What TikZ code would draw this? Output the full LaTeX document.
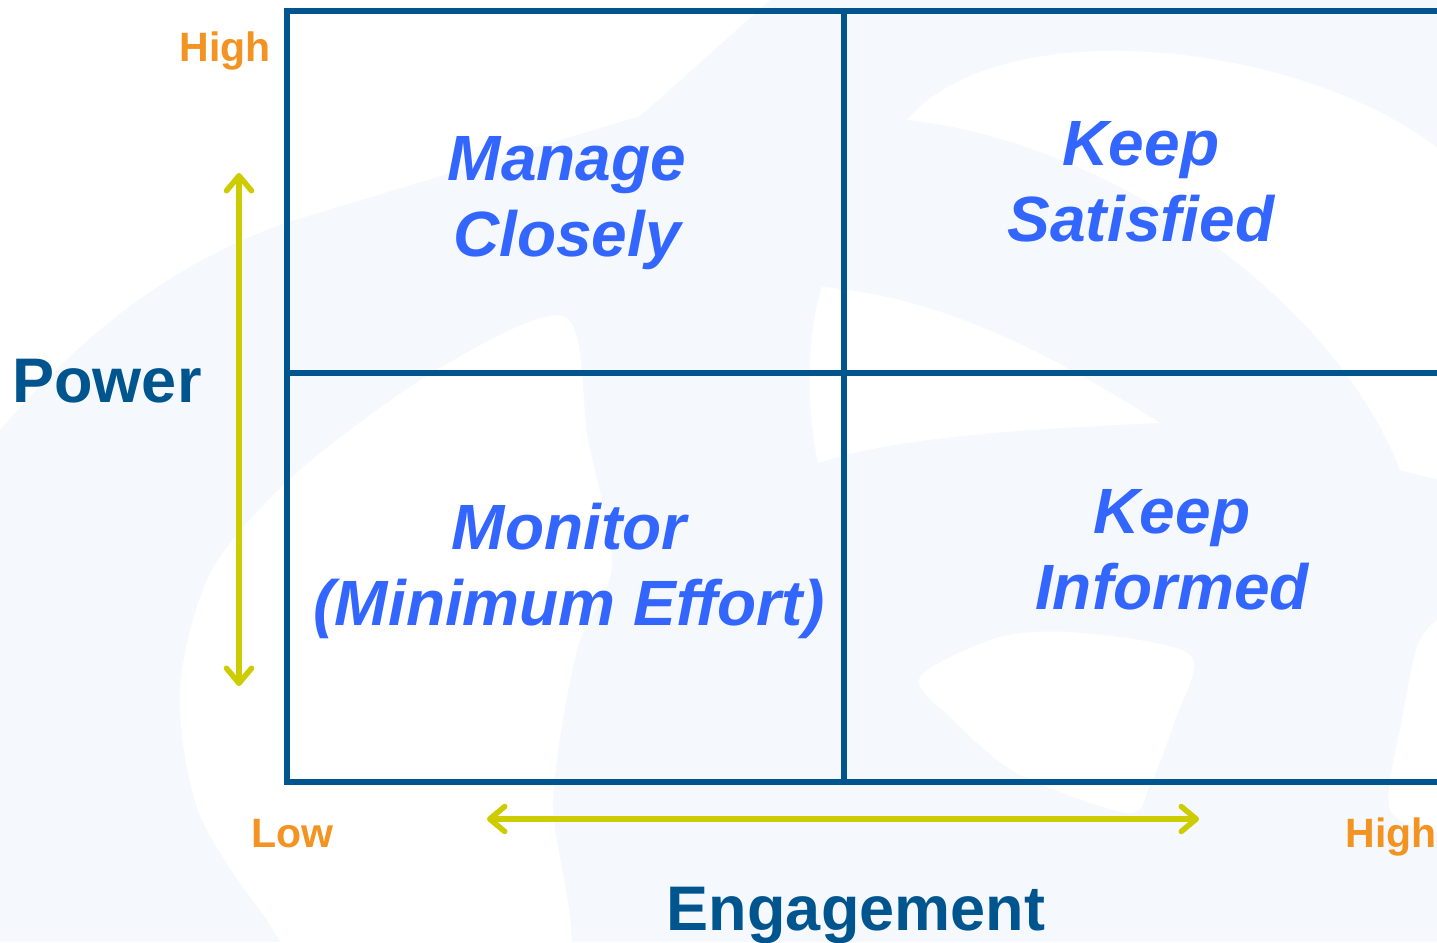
\documentclass[tikz,border=0pt]{standalone}
\usepackage{fontspec}
\setmainfont{Liberation Sans}
\usetikzlibrary{arrows.meta}
\definecolor{gridblue}{HTML}{00558F}
\definecolor{quadblue}{HTML}{3366FF}
\definecolor{axisorange}{HTML}{F39322}
\definecolor{axisyellow}{HTML}{CCCC00}
\definecolor{wash}{HTML}{F5F9FD}
\begin{document}
\begin{tikzpicture}[x=1pt,y=-1pt,
  quad/.style={font=\fontsize{64}{76}\selectfont\bfseries\itshape, text=quadblue, align=center, inner sep=0pt},
  axistitle/.style={font=\fontsize{63}{70}\selectfont\bfseries, text=gridblue, inner sep=0pt, anchor=base},
  level/.style={font=\fontsize{41}{48}\selectfont\bfseries, text=axisorange, inner sep=0pt, anchor=base},
  gridline/.style={draw=gridblue, line width=6pt},
  barb/.tip={Straight Barb[length=15pt,width=25pt,round]},
  axisarrow/.style={draw=axisyellow, line width=5.5pt, line cap=round, barb-barb},
]
\useasboundingbox (0,0) rectangle (1437,942);
\clip (0,0) rectangle (1437,942);

% faint watermark swirl behind the matrix
\fill[wash] (0,0) rectangle (1437,942);
\begin{scope}[white]
  \fill (0,0) -- (770,0) -- (640,116) -- (288,222)
        .. controls (150,270) and (60,360) .. (0,430) -- cycle;
  \fill plot[smooth cycle] coordinates {(565,317) (440,368) (300,470) (212,570)
        (180,690) (198,810) (260,910) (330,980) (560,980) (553,800) (577,650)
        (612,565) (588,440)};
  \fill (822,287) .. controls (950,298) and (1060,360) .. (1160,423)
        .. controls (1050,428) and (900,435) .. (818,463)
        .. controls (805,400) and (808,330) .. (822,287) -- cycle;
  \fill (907,120) .. controls (1100,140) and (1330,290) .. (1400,470)
        -- (1440,480) -- (1440,150)
        .. controls (1300,40) and (1000,10) .. (907,120) -- cycle;
  \fill plot[smooth cycle] coordinates {(920,677) (1000,637) (1083,633) (1190,655)
        (1175,720) (1150,785) (1127,813) (1017,773) (950,717)};
  \fill plot[smooth cycle] coordinates {(1420,640) (1450,630) (1450,820)
        (1390,810) (1402,720)};
\end{scope}

% the 2x2 matrix
\draw[gridline] (1450,11) -- (287,11) -- (287,782) -- (1450,782);
\draw[gridline] (844,11) -- (844,782);
\draw[gridline] (287,373) -- (1450,373);

% quadrant labels
\node[quad] (manage)    at (567,203) {Manage\\Closely};
\node[quad] (satisfied) at (1141,182) {Keep\\Satisfied};
\node[quad] (monitor)   at (569,571) {Monitor\\(Minimum Effort)};
\node[quad] (informed)  at (1172,550) {Keep\\Informed};

% axis titles and levels
\node[axistitle] (power)  at (107,402) {Power};
\node[axistitle] (engage) at (856,930) {Engagement};
\node[level] (phigh) at (225,62)  {High};
\node[level] (elow)  at (292,847) {Low};
\node[level] (ehigh) at (1391,847) {High};

% axis arrows
\coordinate (vtop) at (239,173);
\coordinate (vbot) at (239,686);
\coordinate (hleft) at (487,819);
\coordinate (hright) at (1199,819);
\draw[axisarrow] (vbot) -- (vtop);
\draw[axisarrow] (hleft) -- (hright);
\end{tikzpicture}
\end{document}
